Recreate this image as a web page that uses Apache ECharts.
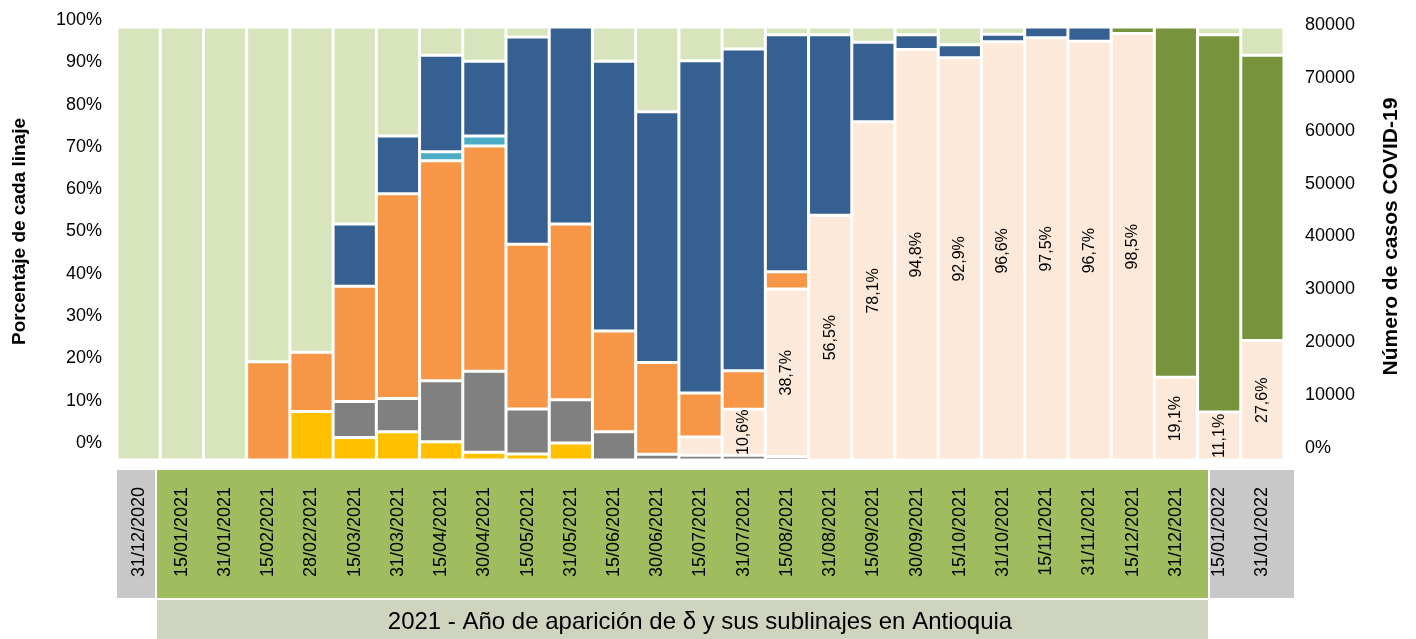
<!DOCTYPE html>
<html>
<head>
<meta charset="utf-8">
<script src="https://cdn.jsdelivr.net/npm/echarts@6/dist/echarts.min.js"></script>
<style>
html,body{margin:0;padding:0;background:#fff;}
#c{width:1416px;height:639px;}
</style>
</head>
<body>
<div id="c"></div>
<script>
var categories = ['31/12/2020','15/01/2021','31/01/2021','15/02/2021','28/02/2021','15/03/2021','31/03/2021','15/04/2021','30/04/2021','15/05/2021','31/05/2021','15/06/2021','30/06/2021','15/07/2021','31/07/2021','15/08/2021','31/08/2021','15/09/2021','30/09/2021','15/10/2021','31/10/2021','15/11/2021','31/11/2021','15/12/2021','31/12/2021','15/01/2022','31/01/2022'];

var yellowVals    = [0,0,0,0,11.2,5.2,6.5,4.2,1.8,1.4,3.9,0,0,0,0,0,0,0,0,0,0,0,0,0,0,0,0];
var grayVals      = [0,0,0,0,0,8.3,7.7,14.1,18.7,10.4,10.0,6.5,1.3,1.1,1.1,0.8,0,0,0,0,0,0,0,0,0,0,0];
var deltaVals     = [0,0,0,0,0,0,0,0,0,0,0,0,0,4.2,10.6,38.7,56.5,78.1,94.8,92.9,96.6,97.5,96.7,98.5,19.1,11.1,27.6];
var orangeVals    = [0,0,0,22.7,13.7,26.6,47.3,50.8,52.0,38.0,40.6,23.3,21.2,10.2,8.9,4.0,0,0,0,0,0,0,0,0,0,0,0];
var tealVals      = [0,0,0,0,0,0,0,2.1,2.3,0,0,0,0,0,0,0,0,0,0,0,0,0,0,0,0,0,0];
var blueVals      = [0,0,0,0,0,14.4,13.3,22.3,17.3,47.9,45.5,62.3,57.9,76.7,74.3,54.7,41.7,18.4,3.4,3.0,1.7,2.5,3.3,0,0,0,0];
var omicronVals   = [0,0,0,0,0,0,0,0,0,0,0,0,0,0,0,0,0,0,0,0,0,0,0,1.5,80.9,87.1,65.9];
var othersVals    = [100,100,100,77.3,75.1,45.5,25.2,6.5,7.9,2.3,0,7.9,19.6,7.8,5.1,1.8,1.8,3.5,1.8,4.1,1.7,0,0,0,0,1.8,6.5];

var leftTicks = [0,10,20,30,40,50,60,70,80,90,100];
var rightTicks = [0,10000,20000,30000,40000,50000,60000,70000,80000];

var FONT = '"Liberation Sans", Arial, Helvetica, sans-serif';

function clean(arr){ return arr.map(function(v){ return v === 0 ? '-' : v; }); }

function barSeries(name, data, color, extra){
  var s = {
    name: name, type: 'bar', stack: 'total', xAxisIndex: 0, yAxisIndex: 0,
    data: clean(data), barCategoryGap: '0%',
    itemStyle: { color: color, borderColor: '#ffffff', borderWidth: 1.5 },
    emphasis: { disabled: true }
  };
  if (extra) for (var k in extra) s[k] = extra[k];
  return s;
}

var chart = echarts.init(document.getElementById('c'), null, {renderer: 'canvas'});
var option = {
  animation: false,
  grid: [
    { left: 117, right: 132, top: 27, bottom: 179 },
    { left: 117, right: 132, top: 20, bottom: 196 },
    { left: 117, right: 132, top: 25, bottom: 191 }
  ],
  xAxis: [
    { type: 'category', gridIndex: 0, data: categories, z: 5,
      axisLine: { show: false }, axisTick: { show: false },
      axisLabel: { rotate: 90, interval: 0, margin: 27, fontSize: 18, color: '#000', fontFamily: FONT } },
    { type: 'category', gridIndex: 1, data: categories, show: false },
    { type: 'category', gridIndex: 2, data: categories, show: false }
  ],
  yAxis: [
    { type: 'value', gridIndex: 0, min: 0, max: 100, show: false },
    { type: 'value', gridIndex: 1, min: leftTicks[0], max: leftTicks[leftTicks.length-1], interval: 10,
      position: 'left',
      axisLine: { show: false }, axisTick: { show: false }, splitLine: { show: false },
      axisLabel: { formatter: '{value}%', fontSize: 18, color: '#000', margin: 15, fontFamily: FONT },
      name: 'Porcentaje de cada linaje', nameLocation: 'middle', nameGap: 88, nameRotate: 90,
      nameTextStyle: { fontSize: 19, fontWeight: 'bold', color: '#000', fontFamily: FONT } },
    { type: 'value', gridIndex: 2, min: rightTicks[0], max: rightTicks[rightTicks.length-1], interval: 10000,
      position: 'right',
      axisLine: { show: false }, axisTick: { show: false }, splitLine: { show: false },
      axisLabel: { formatter: function(v){ return v === 0 ? '0%' : String(v); }, fontSize: 18, color: '#000', margin: 21, fontFamily: FONT },
      name: 'Número de casos COVID-19', nameLocation: 'middle', nameGap: 97, nameRotate: 90,
      nameTextStyle: { fontSize: 21, fontWeight: 'bold', color: '#000', fontFamily: FONT } }
  ],
  series: [
    barSeries('B.1.1.7 (α)', yellowVals, '#FFC000'),
    barSeries('B.1.1.348', grayVals, '#808080'),
    barSeries('B.1.617.2 (δ)', deltaVals, '#FDE9D9', {
      label: { show: true, position: 'inside', rotate: 90, fontSize: 16, color: '#000', fontFamily: FONT,
        formatter: function(p){ return (typeof p.value === 'number' && p.value >= 10) ? p.value.toFixed(1).replace('.', ',') + '%' : ''; } }
    }),
    barSeries('P.1 (γ)', orangeVals, '#F79646'),
    barSeries('C.37 (λ)', tealVals, '#4BACC6'),
    barSeries('B.1.621 (μ)', blueVals, '#366092'),
    barSeries('B.1.1.529 (ο)', omicronVals, '#77933C'),
    barSeries('Otros', othersVals, '#D8E4BC')
  ],
  graphic: [
    { type: 'rect', z: -1, shape: { x: 117, y: 470, width: 38, height: 128 }, style: { fill: '#C8C8C8' } },
    { type: 'rect', z: -1, shape: { x: 157, y: 470, width: 1051, height: 128 }, style: { fill: '#9FBC5E' } },
    { type: 'rect', z: -1, shape: { x: 1210, y: 470, width: 84, height: 128 }, style: { fill: '#C8C8C8' } },
    { type: 'rect', z: -1, shape: { x: 157, y: 600, width: 1051, height: 39 }, style: { fill: '#CFD4BF' } },
    { type: 'text', z: 1, x: 700, y: 622, style: { text: '2021 - Año de aparición de δ y sus sublinajes en Antioquia', fill: '#000', font: '24px ' + FONT, textAlign: 'center', textVerticalAlign: 'middle' } }
  ]
};
chart.setOption(option);
</script>
</body>
</html>
